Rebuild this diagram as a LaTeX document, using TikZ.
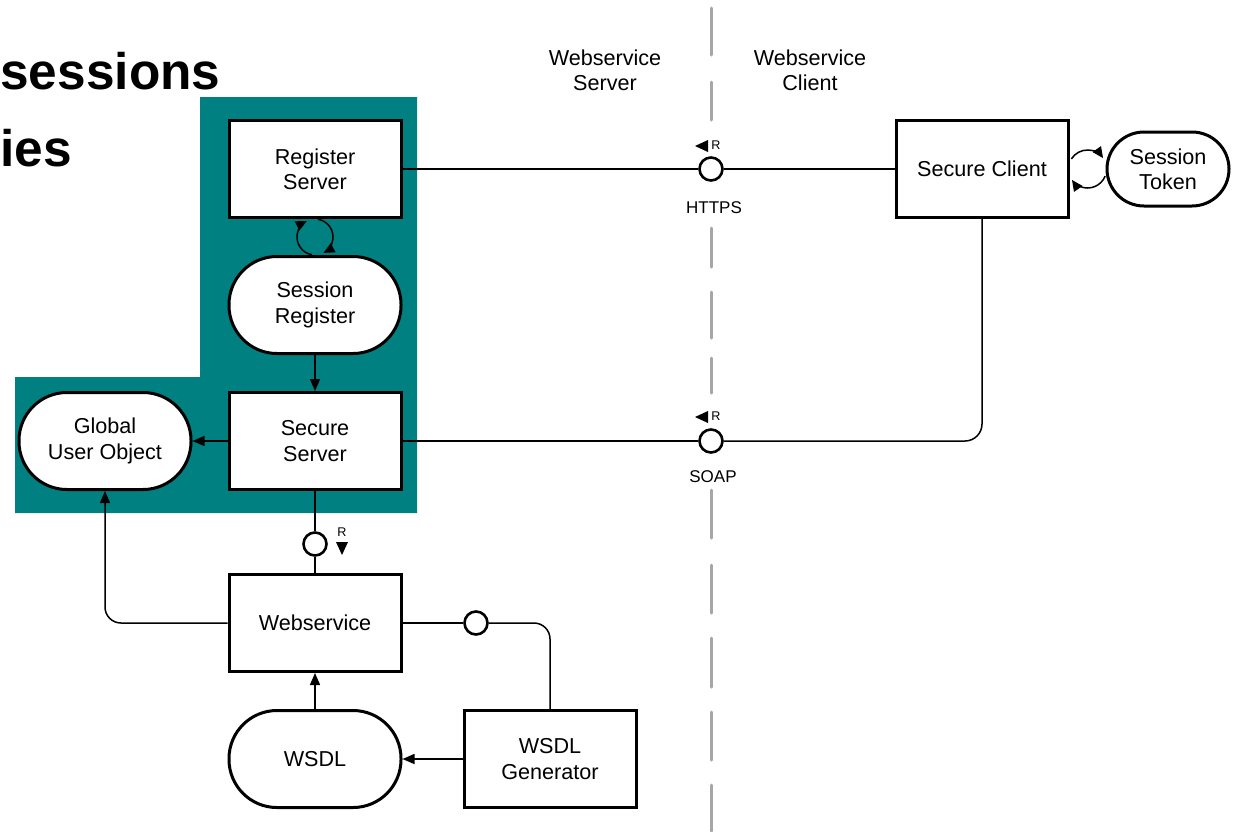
\documentclass[tikz,border=0pt]{standalone}
\usepackage{fontspec}
\setmainfont{Liberation Sans}
\usetikzlibrary{positioning,arrows.meta,calc}
\newcommand{\boxfont}{\fontsize{10.8}{12.6}\selectfont}
\newcommand{\tagfont}{\fontsize{8.5}{10}\selectfont}
\newcommand{\dirfont}{\fontsize{6.3}{7}\selectfont}
\definecolor{zonecol}{RGB}{0,128,128}
\definecolor{splitcol}{RGB}{166,166,166}

\begin{document}
\begin{tikzpicture}[x=0.5pt,y=-0.5pt,
    box/.style={draw, line width=1.5pt, fill=white, minimum width=86pt, minimum height=48.5pt, align=center, font=\boxfont},
    store/.style={box, rounded corners=24pt},
    sock/.style={circle, draw, line width=1.3pt, fill=white, minimum size=11.5pt, inner sep=0pt},
    conn/.style={line width=0.75pt},
    arr/.style={conn, -{Triangle[length=6pt,width=5pt]}},
    loopy/.style={conn, -{Triangle[length=5.5pt,width=5pt]}}]
    \useasboundingbox (0,0) rectangle (1235,831);
    \clip (0,0) rectangle (1235,831);

    % Title fragments
    \node[anchor=base west, inner sep=0pt, font=\fontsize{25.7}{30}\selectfont\bfseries] (ttlA) at (0,89) {sessions};
    \node[anchor=base west, inner sep=0pt, font=\fontsize{25.7}{30}\selectfont\bfseries] (ttlB) at (0,166) {ies};

    % Server zone
    \fill[zonecol] (200,97) -- (417,97) -- (417,513) -- (15,513) -- (15,377) -- (200,377) -- cycle;

    % Split between server and client
    \foreach \a/\b in {8/55, 82/120, 228/267, 292/338, 358/393, 490/538, 565/613, 638/687, 712/760, 785/831}
        \draw[splitcol, line width=1.5pt, line cap=round] (711,\a) -- (711,\b);
    \node[align=center, font=\boxfont] (srvside) at (605,70) {Webservice\\Server};
    \node[align=center, font=\boxfont] (cltside) at (810,70) {Webservice\\Client};

    % Components
    \node[box] (regsrv) at (315,169) {Register\\Server};
    \node[store] (sessreg) at (315,305) {Session\\Register};
    \node[box] (securesrv) at (315,441) {Secure\\Server};
    \node[store] (globaluser) at (105,441) {Global\\User Object};
    \node[box] (websvc) at (315,623) {Webservice};
    \node[store] (wsdl) at (315,759) {WSDL};
    \node[box] (wsdlgen) at (550,759) {WSDL\\Generator};
    \node[box] (secclient) at (982,169) {Secure Client};
    \node[store, minimum width=61pt, minimum height=37pt, rounded corners=18.5pt] (sesstoken) at (1168,169) {Session\\Token};

    % Interfaces
    \node[sock] (https) at (711,169) {};
    \node[sock] (soap) at (711,441) {};
    \node[sock] (rsock) at (315,544) {};
    \node[sock] (wsock) at (476,623) {};
    \node[font=\tagfont] (httpslbl) at (714,208) {HTTPS};
    \node[font=\tagfont] (soaplbl) at (713,477) {SOAP};

    % Request direction marks
    \node[font=\dirfont, inner sep=0pt] (httpsdir) at (716,145) {R};
    \fill (695,146) -- (708,140) -- (708,152) -- cycle;
    \node[font=\dirfont, inner sep=0pt] (soapdir) at (716,416) {R};
    \fill (695,417) -- (708,411) -- (708,423) -- cycle;
    \node[font=\dirfont, inner sep=0pt] (rsockdir) at (342,532) {R};
    \fill (342,555) -- (336,542) -- (348,542) -- cycle;

    % Connectors
    \draw[conn] (regsrv.east) -- (https);
    \draw[conn] (https) -- (secclient.west);
    \draw[conn] (securesrv.east) -- (soap);
    \draw[conn, rounded corners=8.5pt] (soap) -- (soap -| secclient.south) -- (secclient.south);
    \draw[conn] (securesrv.south) -- (rsock);
    \draw[conn] (rsock) -- (websvc.north);
    \draw[conn] (websvc.east) -- (wsock);
    \draw[conn, rounded corners=8pt] (wsock) -- (wsock -| wsdlgen.north) -- (wsdlgen.north);
    \draw[arr, rounded corners=8pt] (websvc.west) -- (websvc.west -| globaluser.south) -- (globaluser.south);
    \draw[arr] (securesrv.west) -- (globaluser.east);
    \draw[arr] (sessreg.south) -- (securesrv.north);
    \draw[arr] (wsdlgen.west) -- (wsdl.east);
    \draw[arr] (wsdl.north) -- (websvc.south);

    % Loops
    \coordinate (regloop) at ($(regsrv.south)!0.5!(sessreg.north)$);
    \draw[loopy] ($(regloop)+(100:18)$) arc[start angle=100, end angle=243, radius=18];
    \draw[loopy] ($(regloop)+(280:18)$) arc[start angle=280, end angle=422, radius=18];
    \coordinate (tokloop) at ($(secclient.east)!0.5!(sesstoken.west)$);
    \draw[loopy] ($(tokloop)+(212:19)$) arc[start angle=212, end angle=325, radius=19];
    \draw[loopy] ($(tokloop)+(22:19)$) arc[start angle=22, end angle=145, radius=19];
\end{tikzpicture}
\end{document}
